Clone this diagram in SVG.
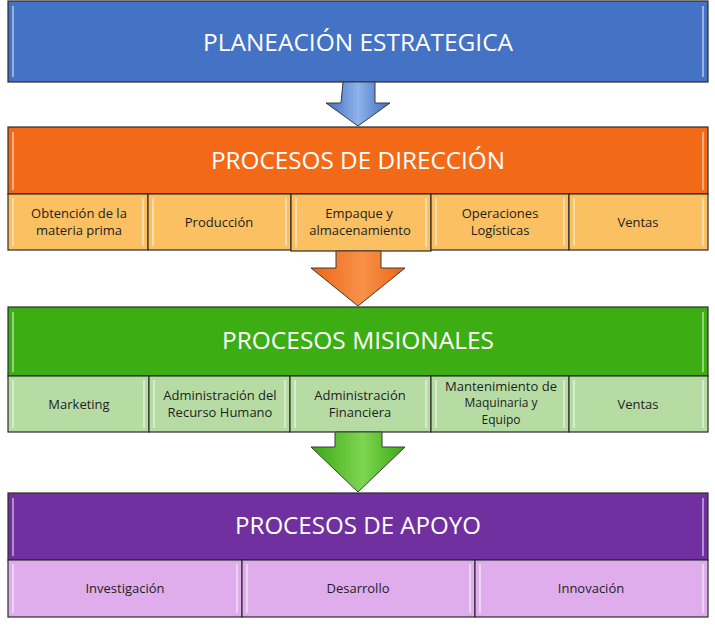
<svg xmlns="http://www.w3.org/2000/svg" width="715" height="628" viewBox="0 0 715 628">
<defs>
<linearGradient id="gBlue" x1="0" y1="0" x2="1" y2="0"><stop offset="0" stop-color="#3f6cbf"/><stop offset="0.5" stop-color="#8fb3ea"/><stop offset="1" stop-color="#3f6cbf"/></linearGradient>
<linearGradient id="gOrange" x1="0" y1="0" x2="1" y2="0"><stop offset="0" stop-color="#ef6414"/><stop offset="0.55" stop-color="#f7924a"/><stop offset="1" stop-color="#ef6414"/></linearGradient>
<linearGradient id="gGreen" x1="0" y1="0" x2="1" y2="0"><stop offset="0" stop-color="#3aa814"/><stop offset="0.55" stop-color="#7ed650"/><stop offset="1" stop-color="#3aa814"/></linearGradient>
</defs>
<style>
.box{stroke:#2b2b2b;stroke-width:1.2}
.hl{stroke:#ffffff;stroke-opacity:0.45;stroke-width:2;fill:none}
.title{font-family:"Open Sans","Liberation Sans",sans-serif;font-size:24px;fill:#ffffff;text-anchor:middle}
.cell{font-family:"Open Sans","Liberation Sans",sans-serif;font-size:13px;fill:#1e1e1e;text-anchor:middle}
.cell3{font-family:"Open Sans","Liberation Sans",sans-serif;font-size:12px;fill:#1e1e1e;text-anchor:middle}
.cellp{font-family:"Open Sans","Liberation Sans",sans-serif;font-size:13px;fill:#1e1e1e;text-anchor:middle}
.arrow{stroke:#3a3a3a;stroke-width:1}
</style>
<rect width="715" height="628" fill="#ffffff"/>

<g id="planeacion">
<rect class="box" x="8" y="1" width="700" height="81" fill="#4472c4"/>
<line class="hl" x1="13" y1="6" x2="13" y2="77"/><line class="hl" x1="703" y1="6" x2="703" y2="77"/>
<text class="title" x="358" y="51" textLength="310" lengthAdjust="spacingAndGlyphs">PLANEACIÓN ESTRATEGICA</text>
</g>

<g id="direccion">
<rect class="box" x="8" y="127" width="700" height="67" fill="#f26a18"/>
<line class="hl" x1="13" y1="132" x2="13" y2="190"/><line class="hl" x1="703" y1="132" x2="703" y2="190"/>
<text class="title" x="358" y="169" textLength="294" lengthAdjust="spacingAndGlyphs">PROCESOS DE DIRECCIÓN</text>
</g>
<g id="d1"><rect class="box" x="8" y="194" width="140" height="56" fill="#fac062"/><line class="hl" x1="13" y1="198" x2="13" y2="246"/><line class="hl" x1="143" y1="198" x2="143" y2="246"/>
<text class="cell" x="79" y="218">Obtención de la</text><text class="cell" x="79" y="235">materia prima</text></g>
<g id="d2"><rect class="box" x="148" y="194" width="143" height="56" fill="#fac062"/><line class="hl" x1="153" y1="198" x2="153" y2="246"/><line class="hl" x1="286" y1="198" x2="286" y2="246"/>
<text class="cell" x="219" y="227">Producción</text></g>
<g id="d3"><rect class="box" x="291" y="194" width="140" height="57" fill="#fac062"/><line class="hl" x1="296" y1="198" x2="296" y2="247"/><line class="hl" x1="426" y1="198" x2="426" y2="247"/>
<text class="cell" x="359" y="218">Empaque y</text><text class="cell" x="360" y="235">almacenamiento</text></g>
<g id="d4"><rect class="box" x="431" y="194" width="138" height="56" fill="#fac062"/><line class="hl" x1="436" y1="198" x2="436" y2="246"/><line class="hl" x1="564" y1="198" x2="564" y2="246"/>
<text class="cell" x="500" y="218">Operaciones</text><text class="cell" x="500" y="235">Logísticas</text></g>
<g id="d5"><rect class="box" x="569" y="194" width="139" height="56" fill="#fac062"/><line class="hl" x1="574" y1="198" x2="574" y2="246"/><line class="hl" x1="703" y1="198" x2="703" y2="246"/>
<text class="cell" x="638" y="227">Ventas</text></g>

<g id="misionales">
<rect class="box" x="8" y="307" width="700" height="69" fill="#3cae14"/>
<line class="hl" x1="13" y1="312" x2="13" y2="372"/><line class="hl" x1="703" y1="312" x2="703" y2="372"/>
<text class="title" x="358" y="349" textLength="272" lengthAdjust="spacingAndGlyphs">PROCESOS MISIONALES</text>
</g>
<g id="m1"><rect class="box" x="8" y="376" width="141" height="56" fill="#b6dca4"/><line class="hl" x1="13" y1="380" x2="13" y2="428"/><line class="hl" x1="144" y1="380" x2="144" y2="428"/>
<text class="cell" x="79" y="409">Marketing</text></g>
<g id="m2"><rect class="box" x="149" y="376" width="141" height="56" fill="#b6dca4"/><line class="hl" x1="154" y1="380" x2="154" y2="428"/><line class="hl" x1="285" y1="380" x2="285" y2="428"/>
<text class="cell" x="220" y="400">Administración del</text><text class="cell" x="220" y="417">Recurso Humano</text></g>
<g id="m3"><rect class="box" x="290" y="376" width="141" height="56" fill="#b6dca4"/><line class="hl" x1="295" y1="380" x2="295" y2="428"/><line class="hl" x1="426" y1="380" x2="426" y2="428"/>
<text class="cell" x="360" y="400">Administración</text><text class="cell" x="360" y="417">Financiera</text></g>
<g id="m4"><rect class="box" x="431" y="376" width="138" height="56" fill="#b6dca4"/><line class="hl" x1="436" y1="380" x2="436" y2="428"/><line class="hl" x1="564" y1="380" x2="564" y2="428"/>
<text class="cell3" x="501" y="390.5" textLength="112" lengthAdjust="spacingAndGlyphs">Mantenimiento de</text><text class="cell3" x="501" y="407">Maquinaria y</text><text class="cell3" x="501" y="423.5">Equipo</text></g>
<g id="m5"><rect class="box" x="569" y="376" width="139" height="56" fill="#b6dca4"/><line class="hl" x1="574" y1="380" x2="574" y2="428"/><line class="hl" x1="703" y1="380" x2="703" y2="428"/>
<text class="cell" x="638" y="409">Ventas</text></g>

<g id="apoyo">
<rect class="box" x="8" y="493" width="700" height="67" fill="#7030a0"/>
<line class="hl" x1="13" y1="498" x2="13" y2="556"/><line class="hl" x1="703" y1="498" x2="703" y2="556"/>
<text class="title" x="358" y="534" textLength="246" lengthAdjust="spacingAndGlyphs">PROCESOS DE APOYO</text>
</g>
<g id="a1"><rect class="box" x="8" y="560" width="234" height="57" fill="#e0adec"/><line class="hl" x1="13" y1="564" x2="13" y2="613"/><line class="hl" x1="237" y1="564" x2="237" y2="613"/>
<text class="cellp" x="125" y="593">Investigación</text></g>
<g id="a2"><rect class="box" x="242" y="560" width="233" height="57" fill="#e0adec"/><line class="hl" x1="247" y1="564" x2="247" y2="613"/><line class="hl" x1="470" y1="564" x2="470" y2="613"/>
<text class="cellp" x="358" y="593">Desarrollo</text></g>
<g id="a3"><rect class="box" x="475" y="560" width="233" height="57" fill="#e0adec"/><line class="hl" x1="480" y1="564" x2="480" y2="613"/><line class="hl" x1="703" y1="564" x2="703" y2="613"/>
<text class="cellp" x="591" y="593">Innovación</text></g>

<g id="connectors">
<path class="arrow" d="M343 82 L375 82 L375 103 L390 103 L358 126 L326 103 L341 103 Z" fill="url(#gBlue)"/>
<path class="arrow" d="M336 251 L381 251 L381 268 L405 268 L358 306 L311 268 L336 268 Z" fill="url(#gOrange)"/>
<path class="arrow" d="M335 432 L382 432 L382 447 L405 447 L358 492 L311 447 L335 447 Z" fill="url(#gGreen)"/>
</g>
</svg>
